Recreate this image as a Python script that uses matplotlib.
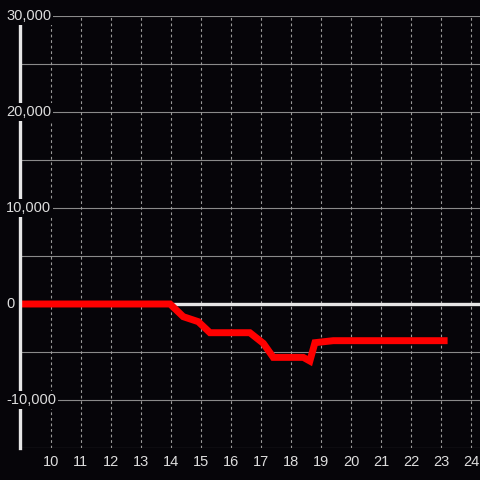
import matplotlib.pyplot as plt
import matplotlib.transforms as mtransforms

# Values
hours = [9.0, 13.97, 14.41, 14.91, 15.3, 16.63, 17.08, 17.41, 18.41, 18.63, 18.8, 19.41, 23.22]
values = [0, 0, -1320, -1840, -2990, -2990, -4100, -5560, -5560, -5940, -4030, -3820, -3820]
x_ticks = list(range(10, 25))
y_ticks = [-10000, 0, 10000, 20000, 30000]
y_grid = list(range(-15000, 30001, 5000))

bg = "#060509"
fig = plt.figure(figsize=(4.8, 4.8), dpi=100, facecolor=bg)
ax = fig.add_axes([20 / 480, 32 / 480, 460 / 480, 432 / 480], facecolor=bg)

ax.set_xlim(8.97, 24.3)
ax.set_ylim(-15000, 30000)

# grid lines
for v in y_grid:
    ax.axhline(v, color="#8a8a8a", linewidth=0.8, zorder=1)
for t in x_ticks:
    ax.axvline(t, color="#9a9a9a", linewidth=0.8, linestyle=(0, (2.5, 2.5)), zorder=1)

# zero line
ax.axhline(0, color="#e6e6e6", linewidth=2.4, zorder=2)

# the series
ax.plot(hours, values, color="#ff0000", linewidth=5, solid_joinstyle="miter",
        solid_capstyle="butt", zorder=3)

for s in ["top", "right", "bottom"]:
    ax.spines[s].set_visible(False)
ax.spines["left"].set_color("#e6e6e6")
ax.spines["left"].set_linewidth(2.4)
ax.spines["left"].set_zorder(4)

ax.set_xticks(x_ticks)
ax.set_xticklabels([str(t) for t in x_ticks], color="#dddddd", fontsize=10.5,
                   family="Liberation Sans")
ax.tick_params(axis="x", length=0, pad=5)
ax.set_yticks([])

# y labels sit over the axis line with a dark box behind them
trans = mtransforms.blended_transform_factory(ax.transAxes, ax.transData)
for v in y_ticks:
    ax.text(-0.03, v, f"{v:,}", transform=trans, ha="left", va="center",
            color="#dddddd", fontsize=10.5, family="Liberation Sans",
            bbox=dict(facecolor=bg, edgecolor="none", pad=1.5),
            clip_on=False, zorder=6)

fig.savefig("out.png", dpi=100, facecolor=bg)
